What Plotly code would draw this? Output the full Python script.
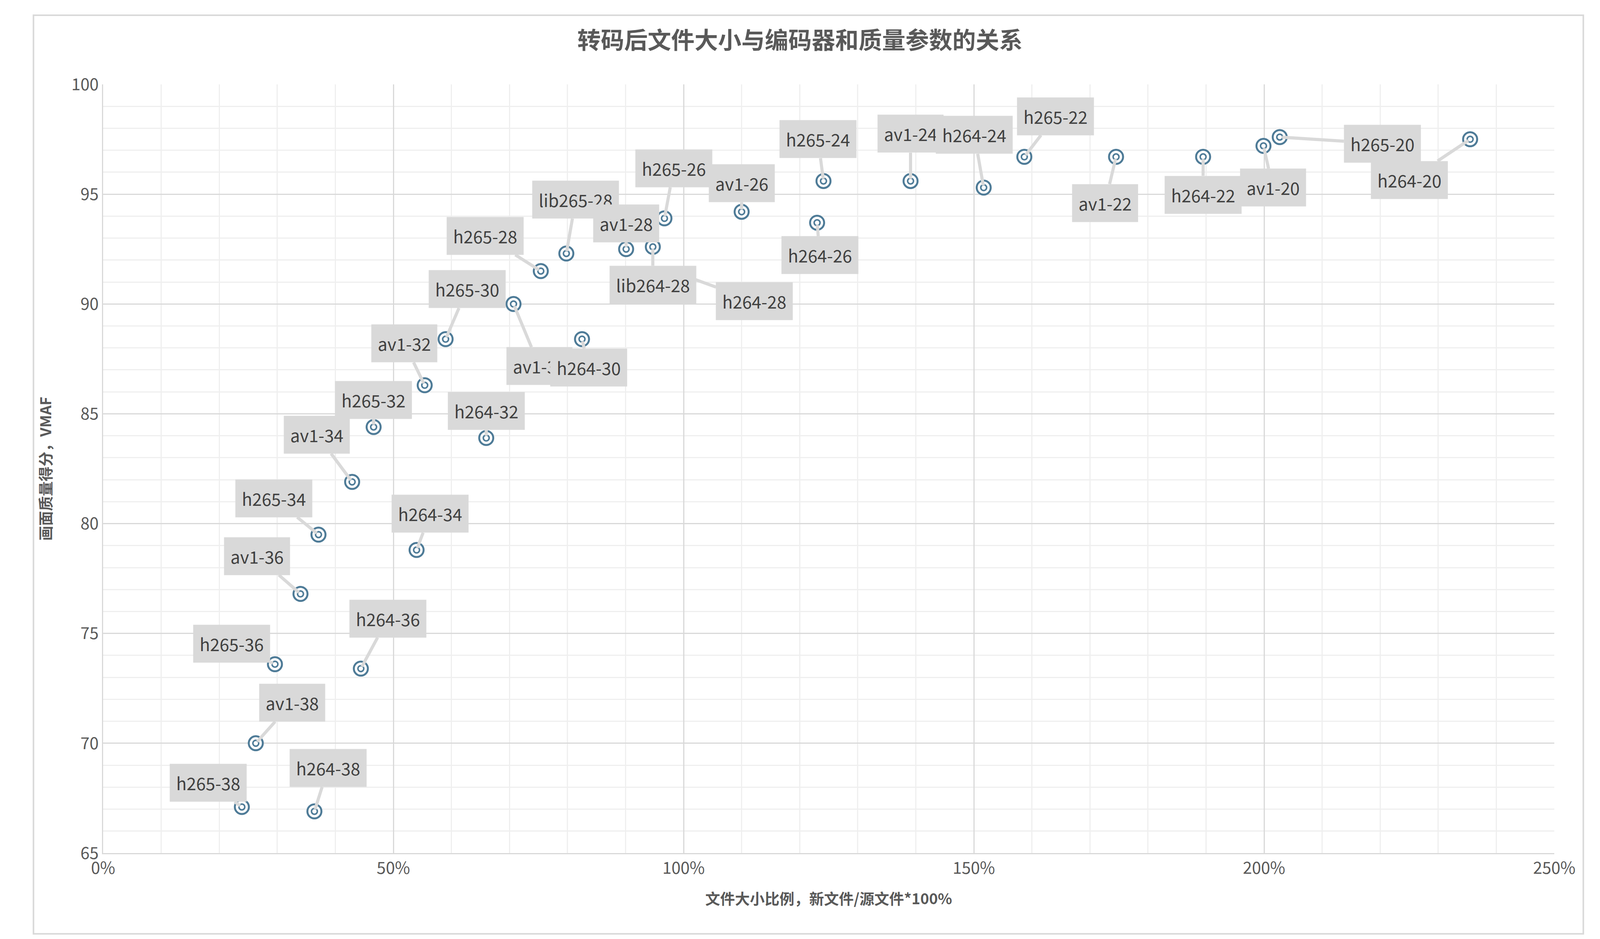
import plotly.graph_objects as go

labels = ["h265-38","h264-38","av1-38","h265-36","h264-36","av1-36","h265-34","h264-34","av1-34",
          "h265-32","h264-32","av1-32","h265-30","av1-30","h264-30","h265-28","lib265-28","av1-28",
          "lib264-28","h264-28","h265-26","av1-26","h264-26","h265-24","av1-24","h264-24","h265-22",
          "av1-22","h264-22","av1-20","h265-20","h264-20"]
size_pct = [23.9,36.4,26.3,29.6,44.4,34.0,37.1,54.0,42.9,46.6,66.0,55.4,59.0,70.7,82.5,75.4,79.8,90.1,
            94.7,100.1,96.7,110.0,123.0,124.1,139.1,151.7,158.7,174.5,189.5,199.9,202.7,235.5]
vmaf = [67.1,66.9,70.0,73.6,73.4,76.8,79.5,78.8,81.9,84.4,83.9,86.3,88.4,90.0,88.4,91.5,92.3,92.5,
        92.6,91.3,93.9,94.2,93.7,95.6,95.6,95.3,96.7,96.7,96.7,97.2,97.6,97.5]
# label offsets in pixels (style)
offsets = [(-86,-62),(35,-111),(93,-104),(-111,-52),(69,-128),(-111,-97),(-114,-93),(35,-93),(-90,-121),
           (0,-69),(0,-69),(-52,-107),(55,-128),(66,159),(17,73),(-142,-90),(24,-138),(0,-66),
           (0,97),(180,66),(24,-128),(0,-73),(7,83),(-14,-107),(0,-121),(-24,-135),(80,-104),
           (-28,118),(0,97),(24,107),(263,17),(-156,104)]

C = "#4e7b97"
fig = go.Figure()
fig.add_trace(go.Scatter(x=size_pct, y=vmaf, mode="markers", hoverinfo="skip",
                         marker=dict(symbol="circle", size=36, color="white", line=dict(color=C, width=5))))
fig.add_trace(go.Scatter(x=size_pct, y=vmaf, mode="markers", hoverinfo="skip",
                         marker=dict(symbol="circle", size=15, color="white", line=dict(color=C, width=4))))

for lab, x, y, (dx, dy) in zip(labels, size_pct, vmaf, offsets):
    fig.add_annotation(x=x, y=y, text=lab, showarrow=True, ax=dx, ay=dy, arrowhead=0,
                       arrowcolor="#d9d9d9", arrowwidth=8, standoff=6, bgcolor="#d9d9d9",
                       borderpad=16, font=dict(size=44, color="#404040"))

fig.add_shape(type="rect", xref="paper", yref="paper", x0=-0.048, x1=1.02, y0=-0.105, y1=1.09,
              line=dict(color="#d9d9d9", width=4), layer="below")

fnt = "Noto Sans CJK SC, Noto Sans, sans-serif"
fig.update_layout(
    autosize=True, paper_bgcolor="white", plot_bgcolor="white",
    margin=dict(l=256, r=109, t=208, b=228), showlegend=False,
    font=dict(family=fnt, color="#595959", size=42),
    title=dict(text="<b>转码后文件大小与编码器和质量参数的关系</b>", x=0.5, xanchor="center",
               y=0.96, yanchor="middle", font=dict(size=60, color="#595959")),
    xaxis=dict(range=[0, 250], dtick=50, ticksuffix="%", showgrid=True, gridcolor="#d9d9d9", gridwidth=3,
               minor=dict(dtick=10, showgrid=True, gridcolor="#efefef", gridwidth=3),
               zeroline=False, showline=True, linecolor="#d9d9d9", linewidth=3,
               ticks="", tickfont=dict(size=42),
               title=dict(text="<b>文件大小比例，新文件/源文件*100%</b>", font=dict(size=38, color="#595959"), standoff=40)),
    yaxis=dict(range=[65, 100], dtick=5, showgrid=True, gridcolor="#d9d9d9", gridwidth=3,
               minor=dict(dtick=1, showgrid=True, gridcolor="#efefef", gridwidth=3),
               zeroline=False, showline=True, linecolor="#d9d9d9", linewidth=3,
               ticks="", tickfont=dict(size=42),
               title=dict(text="<b>画面质量得分，VMAF</b>", font=dict(size=38, color="#595959"), standoff=40)),
)
fig.write_html("out.html", default_width="100%", default_height="100vh")
